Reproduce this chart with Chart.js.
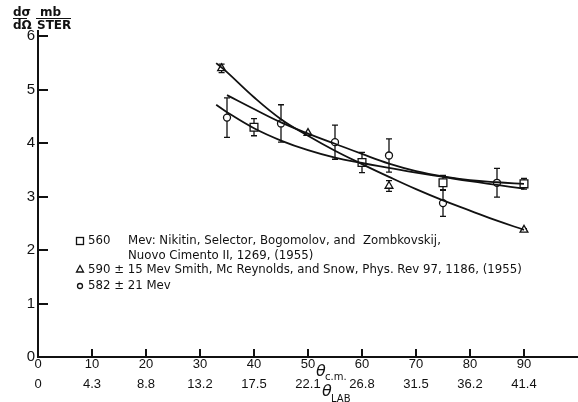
<!DOCTYPE html>
<html>
<head>
<meta charset="utf-8">
<script src="https://cdn.jsdelivr.net/npm/chart.js@4/dist/chart.umd.min.js"></script>
<style>
  html, body { margin: 0; padding: 0; background: #fff; overflow: hidden; }
  #wrap { position: relative; width: 578px; height: 402px; }
  #wrap canvas { display: block; }
</style>
</head>
<body>
<div id="wrap"><canvas id="xsec"></canvas></div>
<script>
'use strict';

// lab angle under each c.m. tick
var labTicks = ['0', '4.3', '8.8', '13.2', '17.5', '22.1', '26.8', '31.5', '36.2', '41.4'];

// 560 Mev, Nikitin et al. (squares)
var nikAngle = [40, 60, 75, 90];
var nikValue = [4.30, 3.64, 3.26, 3.24];
var nikErr = [0.16, 0.19, 0.14, 0.10];

// 590 +- 15 Mev, Smith et al. (triangles)
var smithAngle = [34, 50, 65, 90];
var smithValue = [5.40, 4.19, 3.20, 2.38];
var smithErr = [0.08, 0, 0.10, 0.02];

// 582 +- 21 Mev (circles)
var ownAngle = [35, 45, 55, 65, 75, 85];
var ownValue = [4.48, 4.37, 4.02, 3.77, 2.88, 3.26];
var ownErr = [0.37, 0.35, 0.32, 0.31, 0.25, 0.27];

// hand drawn fit curves
var steepAngle = [33, 35, 40, 45, 50, 55, 60, 65, 70, 75, 80, 85, 90];
var steepFit = [5.50, 5.33, 4.86, 4.45, 4.14, 3.86, 3.61, 3.37, 3.14, 2.93, 2.74, 2.55, 2.38];
var upperAngle = [35, 40, 45, 50, 55, 60, 65, 70, 75, 80, 85, 90];
var upperFit = [4.90, 4.64, 4.39, 4.18, 3.99, 3.80, 3.62, 3.48, 3.38, 3.31, 3.27, 3.24];
var lowerAngle = [33, 35, 40, 45, 50, 55, 60, 65, 70, 75, 80, 85, 90];
var lowerFit = [4.72, 4.58, 4.28, 4.05, 3.87, 3.73, 3.63, 3.54, 3.45, 3.37, 3.29, 3.22, 3.15];

var INK = '#111';
var FONT = '"DejaVu Sans", sans-serif';
var TICKFONT = '"Liberation Sans", Arial, sans-serif';

function pts(xs, ys) {
  return xs.map(function (x, i) { return { x: x, y: ys[i] }; });
}

function fitLine(xs, ys) {
  return {
    data: pts(xs, ys),
    borderColor: INK,
    borderWidth: 1.8,
    pointRadius: 0,
    tension: 0.4,
    fill: false
  };
}

function marks(xs, ys, style, r) {
  return {
    data: pts(xs, ys),
    showLine: false,
    pointStyle: style,
    pointRadius: r,
    pointBackgroundColor: '#fff',
    pointBorderColor: INK,
    pointBorderWidth: 1.3
  };
}

// error bars, drawn under the markers
var errorBars = {
  id: 'errorBars',
  beforeDatasetsDraw: function (chart) {
    var ctx = chart.ctx, xs = chart.scales.x, ys = chart.scales.y;
    var sets = [[nikAngle, nikValue, nikErr], [smithAngle, smithValue, smithErr], [ownAngle, ownValue, ownErr]];
    ctx.save();
    ctx.strokeStyle = INK;
    ctx.lineWidth = 1.3;
    sets.forEach(function (s) {
      s[0].forEach(function (a, i) {
        if (!s[2][i]) return;
        var px = xs.getPixelForValue(a);
        var top = ys.getPixelForValue(s[1][i] + s[2][i]);
        var bot = ys.getPixelForValue(s[1][i] - s[2][i]);
        ctx.beginPath();
        ctx.moveTo(px, top); ctx.lineTo(px, bot);
        ctx.moveTo(px - 3, top); ctx.lineTo(px + 3, top);
        ctx.moveTo(px - 3, bot); ctx.lineTo(px + 3, bot);
        ctx.stroke();
      });
    });
    ctx.restore();
  }
};

// tick marks point into the plot
var innerTicks = {
  id: 'innerTicks',
  afterDraw: function (chart) {
    var ctx = chart.ctx, xs = chart.scales.x, ys = chart.scales.y;
    var left = xs.getPixelForValue(0), bottom = ys.getPixelForValue(0);
    ctx.save();
    ctx.strokeStyle = INK;
    ctx.lineWidth = 2;
    ctx.beginPath();
    for (var v = 10; v <= 90; v += 10) {
      var px = Math.round(xs.getPixelForValue(v));
      ctx.moveTo(px, bottom);
      ctx.lineTo(px, bottom - 8);
    }
    for (var k = 1; k <= 6; k++) {
      var py = Math.round(ys.getPixelForValue(k));
      ctx.moveTo(left, py);
      ctx.lineTo(left + 10, py);
    }
    ctx.stroke();
    ctx.restore();
  }
};

// axis titles and the key
var decorations = {
  id: 'decorations',
  afterDraw: function (chart) {
    var ctx = chart.ctx, xs = chart.scales.x;
    ctx.save();
    ctx.strokeStyle = INK;
    ctx.fillStyle = INK;

    // d sigma / d omega   mb / STER
    ctx.font = 'bold 12px ' + FONT;
    ctx.textBaseline = 'alphabetic';
    ctx.textAlign = 'left';
    ctx.fillText('d\u03C3', 13, 16);
    ctx.fillText('d\u03A9', 13, 29);
    ctx.fillText('mb', 40, 16);
    ctx.fillText('STER', 37, 29);
    ctx.lineWidth = 1.2;
    ctx.beginPath();
    ctx.moveTo(13, 18.5); ctx.lineTo(27, 18.5);
    ctx.moveTo(36, 18.5); ctx.lineTo(71, 18.5);
    ctx.stroke();

    // theta c.m. and theta LAB beside the 50 tick
    var x50 = xs.getPixelForValue(50);
    ctx.font = 'italic 16px ' + FONT;
    ctx.fillText('\u03B8', x50 + 8, 376);
    ctx.fillText('\u03B8', x50 + 14, 396);
    ctx.font = '10px ' + FONT;
    ctx.fillText('c.m.', x50 + 17, 380);
    ctx.fillText('LAB', x50 + 23, 402);

    // key
    var kx = 80;
    ctx.lineWidth = 1.3;
    ctx.font = '11.75px ' + FONT;
    ctx.textBaseline = 'middle';
    ctx.strokeRect(kx - 3.5, 237.5, 7, 7);
    ctx.fillText('560', 88, 241);
    ctx.fillText('Mev: Nikitin, Selector, Bogomolov, and  Zombkovskij,', 128, 241);
    ctx.fillText('Nuovo Cimento II, 1269, (1955)', 128, 256);
    ctx.beginPath();
    ctx.moveTo(kx - 3.5, 272); ctx.lineTo(kx + 3.5, 272); ctx.lineTo(kx, 265.5); ctx.closePath();
    ctx.stroke();
    ctx.fillText('590 \u00B1 15 Mev Smith, Mc Reynolds, and Snow, Phys. Rev 97, 1186, (1955)', 88, 270);
    ctx.beginPath();
    ctx.arc(kx, 286, 2.5, 0, Math.PI * 2);
    ctx.stroke();
    ctx.fillText('582 \u00B1 21 Mev', 88, 286);
    ctx.restore();
  }
};

function main() {
  var ctx = document.getElementById('xsec');
  window.xsecChart = new Chart(ctx, {
    type: 'line',
    data: {
      datasets: [
        fitLine(steepAngle, steepFit),
        fitLine(upperAngle, upperFit),
        fitLine(lowerAngle, lowerFit),
        marks(nikAngle, nikValue, 'rect', 5.5),
        marks(smithAngle, smithValue, 'triangle', 4.5),
        marks(ownAngle, ownValue, 'circle', 3.5)
      ]
    },
    options: {
      responsive: true,
      maintainAspectRatio: false,
      animation: false,
      // marker overflow would otherwise eat into the right edge
      layout: { autoPadding: false, padding: { top: 31, left: 0, right: 0, bottom: 0 } },
      plugins: {
        legend: { display: false },
        tooltip: { enabled: false }
      },
      scales: {
        x: {
          type: 'linear',
          min: 0,
          max: 100,
          grid: { display: false, drawTicks: false },
          border: { display: true, color: INK, width: 2 },
          afterFit: function (s) { s.height = 45; s.paddingLeft = 0; s.paddingRight = 0; },
          ticks: {
            stepSize: 10,
            autoSkip: false,
            maxRotation: 0,
            padding: -2,
            color: INK,
            font: { family: TICKFONT, size: 13, lineHeight: 1.5 },
            callback: function (v) {
              return v <= 90 ? [String(v), labTicks[v / 10]] : '';
            }
          }
        },
        y: {
          min: 0,
          max: 6.1,
          grid: { display: false, drawTicks: false },
          border: { display: true, color: INK, width: 2 },
          afterFit: function (s) { s.width = 38; s.paddingTop = 0; s.paddingBottom = 0; },
          afterBuildTicks: function (s) {
            s.ticks = [0, 1, 2, 3, 4, 5, 6].map(function (v) { return { value: v }; });
          },
          ticks: {
            padding: 3,
            color: INK,
            font: { family: TICKFONT, size: 15 }
          }
        }
      }
    },
    plugins: [errorBars, innerTicks, decorations]
  });
}

main();
</script>
</body>
</html>
